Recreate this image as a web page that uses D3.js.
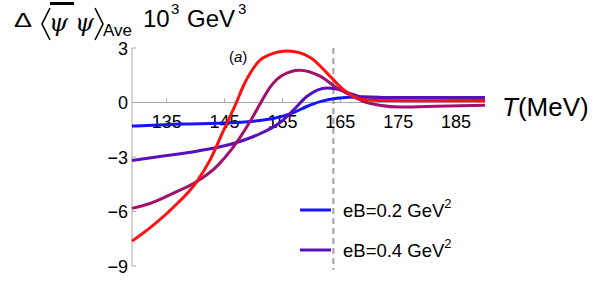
<!DOCTYPE html>
<html>
<head>
<meta charset="utf-8">
<script src="https://cdn.jsdelivr.net/npm/d3@7"></script>
<style>
  body { margin: 0; background: #fff; }
  svg { display: block; font-family: "Liberation Sans", Arial, sans-serif; }
</style>
</head>
<body>
<svg width="600" height="282"></svg>
<script>
// values (T in MeV, condensate difference in 10^3 GeV^3)
var xTicks = [135, 145, 155, 165, 175, 185];
var yTicks = [3, 0, -3, -6, -9];
var Tc = 163.8;

var blueT = [129, 137.3, 145.9, 151.1, 153.4, 156.8, 159.2, 161.5, 164.4, 168.4, 175, 190];
var blueV = [-1.3, -1.19, -1.12, -0.99, -0.88, -0.57, -0.22, 0.05, 0.24, 0.3, 0.26, 0.22];

var purpleT = [129, 134.4, 140.2, 145.9, 151.1, 154.6, 156.8, 159.2, 162.7, 164.4, 167.2, 168.9, 172, 190];
var purpleV = [-3.19, -2.95, -2.68, -2.31, -1.72, -1.1, -0.45, 0.33, 0.8, 0.74, 0.44, 0.3, 0.28, 0.28];

var magentaT = [129, 132.1, 136.1, 140.2, 143.7, 146.4, 149.4, 151.1, 153, 155, 158.0, 161.5, 164.4, 166.2, 168.9, 171.8, 175.3, 180, 190];
var magentaV = [-5.83, -5.56, -5.0, -4.35, -3.5, -2.5, -1.05, -0.1, 0.9, 1.5, 1.78, 1.45, 0.81, 0.5, 0.07, -0.15, -0.25, -0.22, -0.15];

var redT = [129, 132.1, 136.1, 140.2, 142.5, 144.8, 147.1, 148.3, 149.5, 151, 152.5, 156.0, 159.8, 163.2, 165.5, 166.7, 168.9, 172, 180, 190];
var redV = [-7.63, -6.9, -5.78, -4.35, -3.16, -1.55, 0.04, 0.95, 1.65, 2.3, 2.6, 2.83, 2.48, 1.45, 0.72, 0.44, 0.17, 0.11, 0.1, 0.1];

var series = [
  {t: blueT, v: blueV, color: "#1414ff"},
  {t: purpleT, v: purpleV, color: "#5a10b8"},
  {t: magentaT, v: magentaV, color: "#a2106c"},
  {t: redT, v: redV, color: "#ff1010"}
];
var legendNames = ["eB=0.2 GeV", "eB=0.4 GeV"];

var svg = d3.select("svg");

var x = d3.scaleLinear().domain([129, 190]).range([132, 485]);
var y = d3.scaleLinear().domain([-9, 3]).range([266, 48]);

var axisColor = "#a8a8a8";

// axes
svg.append("line")
  .attr("x1", x(129)).attr("x2", x(129))
  .attr("y1", y(3)).attr("y2", y(-9))
  .attr("stroke", axisColor).attr("stroke-width", 1);
svg.append("line")
  .attr("x1", x(129)).attr("x2", x(190))
  .attr("y1", y(0)).attr("y2", y(0))
  .attr("stroke", axisColor).attr("stroke-width", 1);

svg.selectAll(".ytick")
  .data(yTicks)
  .enter().append("line")
    .attr("x1", x(129)).attr("x2", x(129) + 4)
    .attr("y1", function(d) { return y(d); })
    .attr("y2", function(d) { return y(d); })
    .attr("stroke", axisColor);

svg.selectAll(".ylab")
  .data(yTicks)
  .enter().append("text")
    .attr("x", 128)
    .attr("y", function(d) { return y(d) + 6.5; })
    .attr("text-anchor", "end")
    .style("font-size", "18px")
    .text(function(d) { return d < 0 ? "\u2212" + Math.abs(d) : d; });

svg.selectAll(".xtick")
  .data(xTicks)
  .enter().append("line")
    .attr("x1", function(d) { return x(d); })
    .attr("x2", function(d) { return x(d); })
    .attr("y1", y(0)).attr("y2", y(0) - 4)
    .attr("stroke", axisColor);

svg.selectAll(".xlab")
  .data(xTicks)
  .enter().append("text")
    .attr("x", function(d) { return x(d); })
    .attr("y", 128)
    .attr("text-anchor", "middle")
    .style("font-size", "18px")
    .text(function(d) { return d; });

// dashed line at the pseudo-critical temperature
svg.append("line")
  .attr("x1", x(Tc)).attr("x2", x(Tc))
  .attr("y1", y(3)).attr("y2", 270)
  .attr("stroke", "#a0a0a0")
  .attr("stroke-width", 2)
  .attr("stroke-dasharray", "6,4");

// curves
var line = d3.line()
  .x(function(d) { return x(d[0]); })
  .y(function(d) { return y(d[1]); })
  .curve(d3.curveMonotoneX);

series.forEach(function(s) {
  svg.append("path")
    .datum(d3.zip(s.t, s.v))
    .attr("fill", "none")
    .attr("stroke", s.color)
    .attr("stroke-width", 3)
    .attr("d", line);
});

// (a) label
var lab = svg.append("text").attr("x", 229).attr("y", 62).style("font-size", "15px");
lab.append("tspan").text("(");
lab.append("tspan").style("font-style", "italic").text("a");
lab.append("tspan").text(")");

// x axis title
var xt = svg.append("text").attr("x", 502).attr("y", 116).style("font-size", "26px");
xt.append("tspan").style("font-style", "italic").text("T");
xt.append("tspan").text("(MeV)");

// y axis title: Δ<ψbar ψ>_Ave 10^3 GeV^3
svg.append("text").attr("x", 14).attr("y", 27)
  .attr("textLength", 18).attr("lengthAdjust", "spacingAndGlyphs")
  .style("font-size", "20px").text("\u0394");
svg.append("path")
  .attr("d", "M50,8 L42,24 L50,40")
  .attr("fill", "none").attr("stroke", "#000").attr("stroke-width", 1.6);
svg.append("path")
  .attr("d", "M95,8 L103,24 L95,40")
  .attr("fill", "none").attr("stroke", "#000").attr("stroke-width", 1.6);
svg.append("line")
  .attr("x1", 50).attr("x2", 74).attr("y1", 3.5).attr("y2", 3.5)
  .attr("stroke", "#000").attr("stroke-width", 3);
svg.append("text").attr("x", 49).attr("y", 31)
  .style("font-size", "24px").style("font-style", "italic")
  .style("font-family", "'DejaVu Serif', serif").text("\u03c8");
svg.append("text").attr("x", 75).attr("y", 31)
  .style("font-size", "24px").style("font-style", "italic")
  .style("font-family", "'DejaVu Serif', serif").text("\u03c8");
svg.append("text").attr("x", 103).attr("y", 36).style("font-size", "17px").text("Ave");
svg.append("text").attr("x", 143).attr("y", 27).style("font-size", "24px").text("10");
svg.append("text").attr("x", 171).attr("y", 14).style("font-size", "15px").text("3");
svg.append("text").attr("x", 187).attr("y", 27).style("font-size", "24px").text("GeV");
svg.append("text").attr("x", 238).attr("y", 14).style("font-size", "15px").text("3");

// legend
var legend = svg.selectAll(".legend")
  .data(legendNames)
  .enter().append("g")
    .attr("transform", function(d, i) { return "translate(300," + (210 + i * 40) + ")"; });

legend.append("line")
  .attr("x1", 0).attr("x2", 31)
  .attr("stroke", function(d, i) { return series[i].color; })
  .attr("stroke-width", 3);

var lt = legend.append("text")
  .attr("x", 43).attr("y", 7)
  .style("font-size", "18.5px");
lt.append("tspan").text(function(d) { return d; });
lt.append("tspan").attr("dy", -9).style("font-size", "13px").text("2");
</script>
</body>
</html>
